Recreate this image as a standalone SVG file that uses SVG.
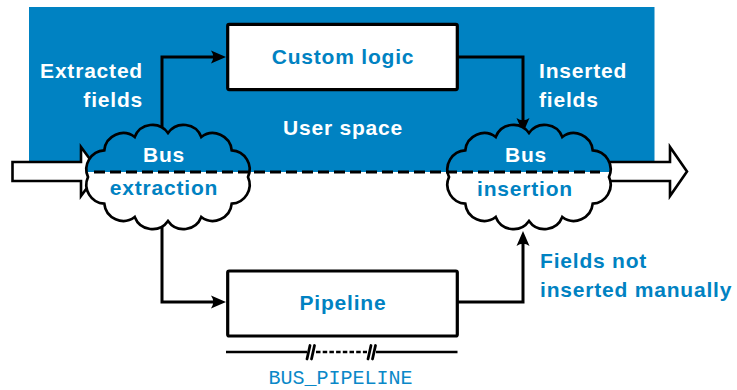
<svg xmlns="http://www.w3.org/2000/svg" xmlns:xlink="http://www.w3.org/1999/xlink" width="737" height="390" viewBox="0 0 737 390">
  <style>
    .label { font-family: "Liberation Sans", Arial, sans-serif; font-weight: bold; font-size: 21px; letter-spacing: 0.8px; }
    .white { fill: #ffffff; }
    .blue { fill: #0082c2; }
    .mono { font-family: "Liberation Mono", "Courier New", monospace; font-size: 20px; fill: #0a88c8; }
    .box { fill: #ffffff; stroke: #000000; stroke-width: 3.2; }
    .wire { fill: none; stroke: #000000; stroke-width: 3; stroke-linejoin: miter; }
    .fat { fill: #ffffff; stroke: #000000; stroke-width: 2.6; stroke-linejoin: miter; }
    .cloud-edge { fill: none; stroke: #000000; stroke-width: 2.7; }
  </style>
  <defs>
    <!-- scalloped cloud outline, centred on the origin -->
    <path id="cloud" d="M0,-44 A19,19 0 0 1 33.3,-40 A19,19 0 0 1 63.7,-26.7 A19,19 0 0 1 80,0 A19,19 0 0 1 63.7,26.7 A19,19 0 0 1 33.3,40 A19,19 0 0 1 0,44 A19,19 0 0 1 -33.3,40 A19,19 0 0 1 -63.7,26.7 A19,19 0 0 1 -80,0 A19,19 0 0 1 -63.7,-26.7 A19,19 0 0 1 -33.3,-40 A19,19 0 0 1 0,-44 Z"/>
    <clipPath id="upper" clipPathUnits="userSpaceOnUse">
      <rect x="0" y="0" width="737" height="172"/>
    </clipPath>
    <marker id="head" viewBox="-16 -8 17 16" refX="-9" refY="0" markerWidth="17" markerHeight="16" markerUnits="userSpaceOnUse" orient="auto">
      <path d="M0,0 L-15,-6.5 Q-10.5,0 -15,6.5 Z" fill="#000000"/>
    </marker>
  </defs>

  <!-- user space band -->
  <rect id="user-space" x="29" y="7" width="625.5" height="165" fill="#0082c2"/>

  <!-- connectors -->
  <g id="connectors">
    <path class="wire" d="M162,150 V57 H217" marker-end="url(#head)"/>
    <path class="wire" d="M457,57 H523 V124" marker-end="url(#head)"/>
    <path class="wire" d="M162,200 V302 H217" marker-end="url(#head)"/>
    <path class="wire" d="M457,302 H523 V240" marker-end="url(#head)"/>
  </g>

  <!-- bus input / output arrows -->
  <g id="bus-in">
    <path class="fat" d="M12.5,162 H81 V147 L99,171.5 L81,196 V181 H12.5 Z"/>
  </g>
  <g id="bus-out">
    <path class="fat" d="M590,162 H670 V147 L687,171.5 L670,196 V181 H590 Z"/>
  </g>

  <!-- bus extraction cloud -->
  <g id="bus-extraction">
    <use xlink:href="#cloud" transform="translate(168,177)" fill="#ffffff"/>
    <g clip-path="url(#upper)">
      <use xlink:href="#cloud" transform="translate(168,177)" fill="#0082c2"/>
    </g>
    <use xlink:href="#cloud" transform="translate(168,177)" class="cloud-edge"/>
  </g>

  <!-- bus insertion cloud -->
  <g id="bus-insertion">
    <use xlink:href="#cloud" transform="translate(529,177)" fill="#ffffff"/>
    <g clip-path="url(#upper)">
      <use xlink:href="#cloud" transform="translate(529,177)" fill="#0082c2"/>
    </g>
    <use xlink:href="#cloud" transform="translate(529,177)" class="cloud-edge"/>
  </g>

  <!-- boundary between user space and the pipeline -->
  <line x1="94" y1="172" x2="600" y2="172" stroke="#000000" stroke-width="3" stroke-dasharray="11,5"/>

  <!-- processing boxes -->
  <g id="custom-logic">
    <rect class="box" x="227.7" y="24.4" width="229.6" height="65.2" rx="1.5"/>
    <text class="label blue" x="343" y="64" text-anchor="middle">Custom logic</text>
  </g>
  <g id="pipeline">
    <rect class="box" x="227.7" y="271" width="229.6" height="65" rx="1.5"/>
    <text class="label blue" x="343" y="310" text-anchor="middle">Pipeline</text>
  </g>

  <!-- cloud labels -->
  <text class="label white" x="164" y="162" text-anchor="middle">Bus</text>
  <text class="label blue" x="164" y="195" text-anchor="middle">extraction</text>
  <text class="label white" x="526" y="162" text-anchor="middle">Bus</text>
  <text class="label blue" x="525" y="196" text-anchor="middle">insertion</text>

  <!-- side labels -->
  <text class="label white" x="143" y="78" text-anchor="end">Extracted</text>
  <text class="label white" x="143" y="107" text-anchor="end">fields</text>
  <text class="label white" x="539" y="78">Inserted</text>
  <text class="label white" x="539" y="107">fields</text>
  <text class="label white" x="343" y="135" text-anchor="middle">User space</text>
  <text class="label blue" x="540" y="268">Fields not</text>
  <text class="label blue" x="540" y="297">inserted manually</text>

  <!-- pipeline length bracket -->
  <g id="bus-pipeline">
    <line x1="226" y1="352" x2="307" y2="352" stroke="#000000" stroke-width="2.6"/>
    <line x1="316" y1="352" x2="367" y2="352" stroke="#000000" stroke-width="2.6" stroke-dasharray="4.5,2.2"/>
    <line x1="376" y1="352" x2="457.5" y2="352" stroke="#000000" stroke-width="2.6"/>
    <g stroke="#000000" stroke-width="2.8" stroke-linecap="round">
      <line x1="307" y1="359" x2="310" y2="345.5"/>
      <line x1="311.5" y1="359" x2="314.5" y2="345.5"/>
      <line x1="368" y1="359" x2="371" y2="345.5"/>
      <line x1="372.5" y1="359" x2="375.5" y2="345.5"/>
    </g>
    <text class="mono" x="340.5" y="384" text-anchor="middle">BUS_PIPELINE</text>
  </g>
</svg>
